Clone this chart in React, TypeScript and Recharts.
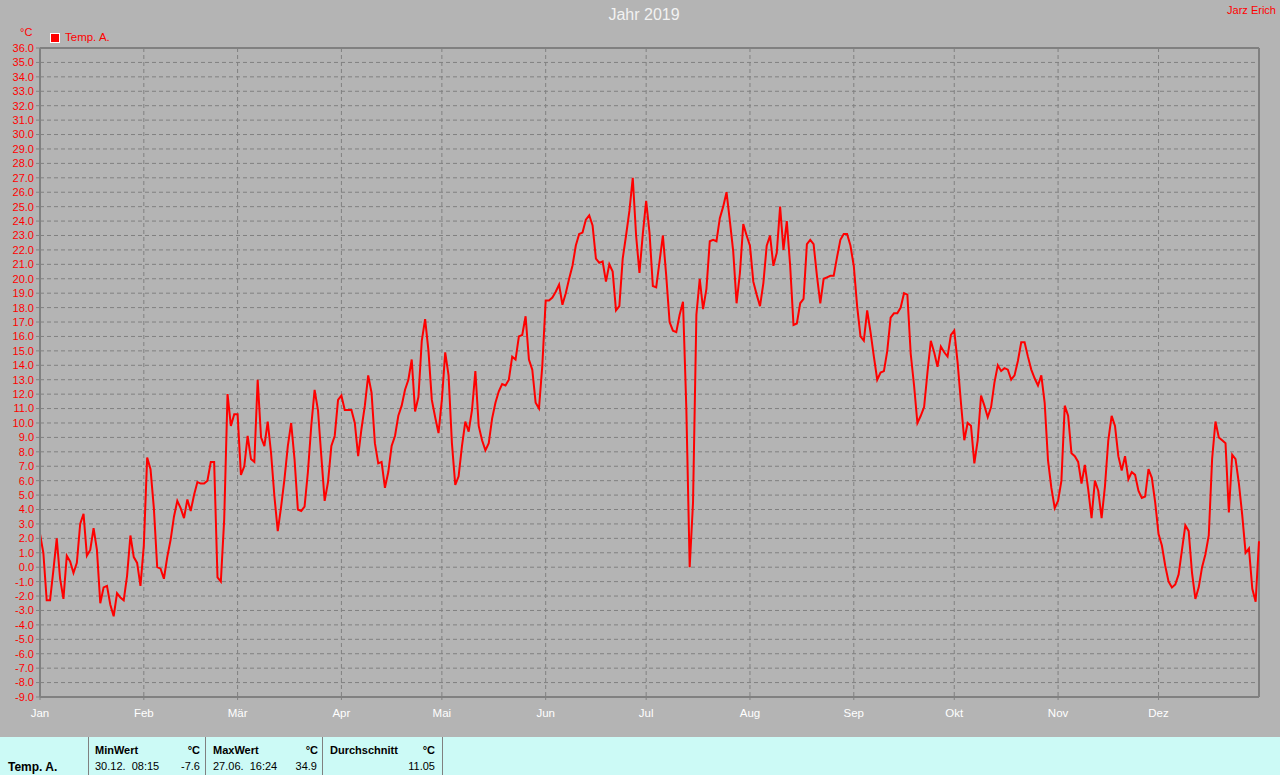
import { CartesianGrid, Line, LineChart, ReferenceLine, XAxis, YAxis } from "recharts";

// daily mean of "Temp. A." for 2019, index 0 = 1 Jan
const temps = [
  2.3, 1.0, -2.3, -2.3, -0.2, 2.0, -0.8, -2.2, 0.8, 0.4,
  -0.4, 0.3, 3.0, 3.7, 0.8, 1.2, 2.7, 1.2, -2.5, -1.4,
  -1.3, -2.6, -3.4, -1.8, -2.1, -2.3, -0.6, 2.2, 0.7, 0.3,
  -1.3, 1.5, 7.6, 6.8, 4.1, 0.0, -0.1, -0.8, 0.7, 1.9,
  3.5, 4.6, 4.1, 3.4, 4.7, 3.9, 5.0, 5.9, 5.8, 5.8,
  6.0, 7.3, 7.3, -0.7, -1.0, 3.3, 12.0, 9.8, 10.6, 10.6,
  6.4, 7.0, 9.1, 7.5, 7.3, 13.0, 9.0, 8.4, 10.1, 7.9,
  4.9, 2.5, 4.2, 6.1, 8.4, 10.0, 7.5, 4.0, 3.9, 4.2,
  6.6, 9.8, 12.3, 10.9, 7.7, 4.6, 5.9, 8.4, 9.1, 11.6,
  11.9, 10.9, 10.9, 10.9, 10.0, 7.7, 9.6, 11.2, 13.3, 12.1,
  8.6, 7.2, 7.3, 5.5, 6.6, 8.4, 9.1, 10.5, 11.2, 12.3,
  13.0, 14.4, 10.8, 11.8, 15.7, 17.2, 15.0, 11.6, 10.4, 9.3,
  11.6, 14.9, 13.3, 8.6, 5.7, 6.3, 8.4, 10.1, 9.4, 10.9,
  13.6, 9.8, 8.8, 8.1, 8.6, 10.3, 11.4, 12.2, 12.7, 12.6,
  13.0, 14.6, 14.4, 16.0, 16.1, 17.4, 14.4, 13.7, 11.4, 11.0,
  14.0, 18.5, 18.5, 18.7, 19.1, 19.6, 18.2, 19.0, 20.0, 20.9,
  22.3, 23.1, 23.2, 24.1, 24.4, 23.7, 21.4, 21.1, 21.2, 19.8,
  21.0, 20.5, 17.8, 18.1, 21.4, 23.0, 24.7, 27.0, 23.0, 20.4,
  23.1, 25.4, 23.2, 19.5, 19.4, 21.2, 23.0, 20.2, 17.0, 16.4,
  16.3, 17.5, 18.4, 11.0, 0.0, 4.5, 17.5, 20.0, 17.9, 19.3,
  22.6, 22.7, 22.6, 24.2, 25.0, 26.0, 24.0, 21.9, 18.3, 20.4,
  23.8, 23.0, 22.3, 19.8, 18.9, 18.1, 19.7, 22.3, 23.0, 20.9,
  21.8, 25.0, 22.0, 24.0, 20.9, 16.8, 16.9, 18.3, 18.6, 22.4,
  22.7, 22.4, 20.2, 18.3, 20.0, 20.1, 20.2, 20.2, 21.5, 22.7,
  23.1, 23.1, 22.3, 20.9, 18.1, 16.0, 15.7, 17.8, 16.3, 14.6,
  13.0, 13.5, 13.6, 15.0, 17.3, 17.6, 17.6, 18.0, 19.0, 18.9,
  14.8, 12.6, 10.0, 10.5, 11.1, 13.5, 15.7, 14.9, 13.9, 15.3,
  14.9, 14.6, 16.1, 16.4, 14.2, 11.4, 8.8, 10.0, 9.8, 7.2,
  8.8, 11.9, 11.2, 10.4, 11.1, 12.8, 14.0, 13.6, 13.8, 13.7,
  13.0, 13.3, 14.3, 15.6, 15.6, 14.6, 13.7, 13.1, 12.6, 13.3,
  11.4, 7.4, 5.5, 4.1, 4.6, 6.0, 11.2, 10.5, 7.9, 7.7,
  7.3, 5.8, 7.1, 5.4, 3.4, 6.0, 5.3, 3.4, 5.6, 8.8,
  10.5, 9.8, 7.7, 6.7, 7.7, 6.1, 6.6, 6.4, 5.3, 4.8,
  4.9, 6.8, 6.2, 4.5, 2.3, 1.5, 0.1, -1.0, -1.4, -1.2,
  -0.5, 1.2, 2.9, 2.5, -0.4, -2.2, -1.4, 0.0, 0.9, 2.2,
  7.5, 10.1, 9.0, 8.8, 8.6, 3.8, 7.8, 7.5, 5.8, 3.6,
  1.0, 1.3, -1.5, -2.4, 1.8,
];

const months = ["Jan", "Feb", "Mär", "Apr", "Mai", "Jun", "Jul", "Aug", "Sep", "Okt", "Nov", "Dez"];
const monthStarts = [0, 31, 59, 90, 120, 151, 181, 212, 243, 273, 304, 334];

const yTicks = [
  -9, -8, -7, -6, -5, -4, -3, -2, -1, 0, 1, 2, 3, 4, 5, 6, 7, 8, 9, 10, 11, 12, 13, 14, 15,
  16, 17, 18, 19, 20, 21, 22, 23, 24, 25, 26, 27, 28, 29, 30, 31, 32, 33, 34, 35, 36,
];

const stats = { name: "Temp. A.", minAt: "30.12.  08:15", min: "-7.6", maxAt: "27.06.  16:24", max: "34.9", avg: "11.05" };

const data = temps.map((t, i) => ({ day: i, t }));

const GRID = "#808080";
const FONT = '"Liberation Sans", Arial, sans-serif';

export default function App() {
  const abs = (style: React.CSSProperties): React.CSSProperties => ({ position: "absolute", whiteSpace: "pre", ...style });
  return (
    <div style={{ position: "relative", width: 1280, height: 775, background: "#b4b4b4", fontFamily: FONT, overflow: "hidden" }}>
      <style>{"body{margin:0}"}</style>
      <div style={abs({ left: 0, width: 1280, top: 6, textAlign: "center", fontSize: 16, color: "#f2f2f2", paddingLeft: 4 })}>Jahr 2019</div>
      <div style={abs({ right: 4, top: 4, fontSize: 11, color: "#ff0000" })}>Jarz Erich</div>
      <div style={abs({ left: 20, top: 26, fontSize: 11, color: "#ff0000" })}>°C</div>
      <div style={abs({ left: 50, top: 33, width: 8, height: 8, background: "#ff0000", border: "1px solid #ffffff" })} />
      <div style={abs({ left: 65, top: 31, fontSize: 11.5, color: "#ff0000" })}>Temp. A.</div>

      <div style={{ position: "absolute", left: 0, top: 0 }}>
        <LineChart width={1280} height={737} data={data} margin={{ top: 48, right: 21, bottom: 10, left: 0 }}>
          <CartesianGrid stroke={GRID} strokeDasharray="4 3" />
          <XAxis
            dataKey="day"
            type="number"
            domain={[0, 364]}
            ticks={monthStarts}
            tickFormatter={(v: number) => months[monthStarts.indexOf(v)]}
            height={30}
            tickSize={3}
            tickMargin={9}
            axisLine={{ stroke: GRID, strokeWidth: 2 }}
            tickLine={{ stroke: GRID }}
            tick={{ fill: "#ffffff", fontSize: 11.5, fontFamily: FONT }}
            interval={0}
          />
          <YAxis
            type="number"
            domain={[-9, 36]}
            ticks={yTicks}
            tickFormatter={(v: number) => v.toFixed(1)}
            width={40}
            tickSize={4}
            tickMargin={2}
            axisLine={{ stroke: GRID, strokeWidth: 2 }}
            tickLine={{ stroke: GRID }}
            tick={{ fill: "#ff0000", fontSize: 11, fontFamily: FONT }}
            interval={0}
          />
          <ReferenceLine y={36} stroke={GRID} strokeWidth={2} />
          <ReferenceLine x={364} stroke={GRID} strokeWidth={2} />
          <Line dataKey="t" stroke="#ff0000" strokeWidth={2} dot={false} isAnimationActive={false} />
        </LineChart>
      </div>

      <div style={abs({ left: 0, top: 737, width: 1280, height: 38, background: "#ccfaf6", fontSize: 11, color: "#000" })}>
        {[88, 205, 322, 442].map((x) => (
          <div key={x} style={abs({ left: x, top: 0, width: 1, height: 38, background: "#808080" })} />
        ))}
        <div style={abs({ left: 8, top: 23, fontWeight: "bold", fontSize: 12 })}>{stats.name}</div>
        <div style={abs({ left: 95, top: 7, fontWeight: "bold" })}>MinWert</div>
        <div style={abs({ left: 180, top: 7, width: 20, textAlign: "right", fontWeight: "bold" })}>°C</div>
        <div style={abs({ left: 95, top: 23 })}>{stats.minAt}</div>
        <div style={abs({ left: 160, top: 23, width: 40, textAlign: "right" })}>{stats.min}</div>
        <div style={abs({ left: 213, top: 7, fontWeight: "bold" })}>MaxWert</div>
        <div style={abs({ left: 298, top: 7, width: 20, textAlign: "right", fontWeight: "bold" })}>°C</div>
        <div style={abs({ left: 213, top: 23 })}>{stats.maxAt}</div>
        <div style={abs({ left: 277, top: 23, width: 40, textAlign: "right" })}>{stats.max}</div>
        <div style={abs({ left: 330, top: 7, fontWeight: "bold" })}>Durchschnitt</div>
        <div style={abs({ left: 415, top: 7, width: 20, textAlign: "right", fontWeight: "bold" })}>°C</div>
        <div style={abs({ left: 385, top: 23, width: 50, textAlign: "right" })}>{stats.avg}</div>
      </div>
    </div>
  );
}
